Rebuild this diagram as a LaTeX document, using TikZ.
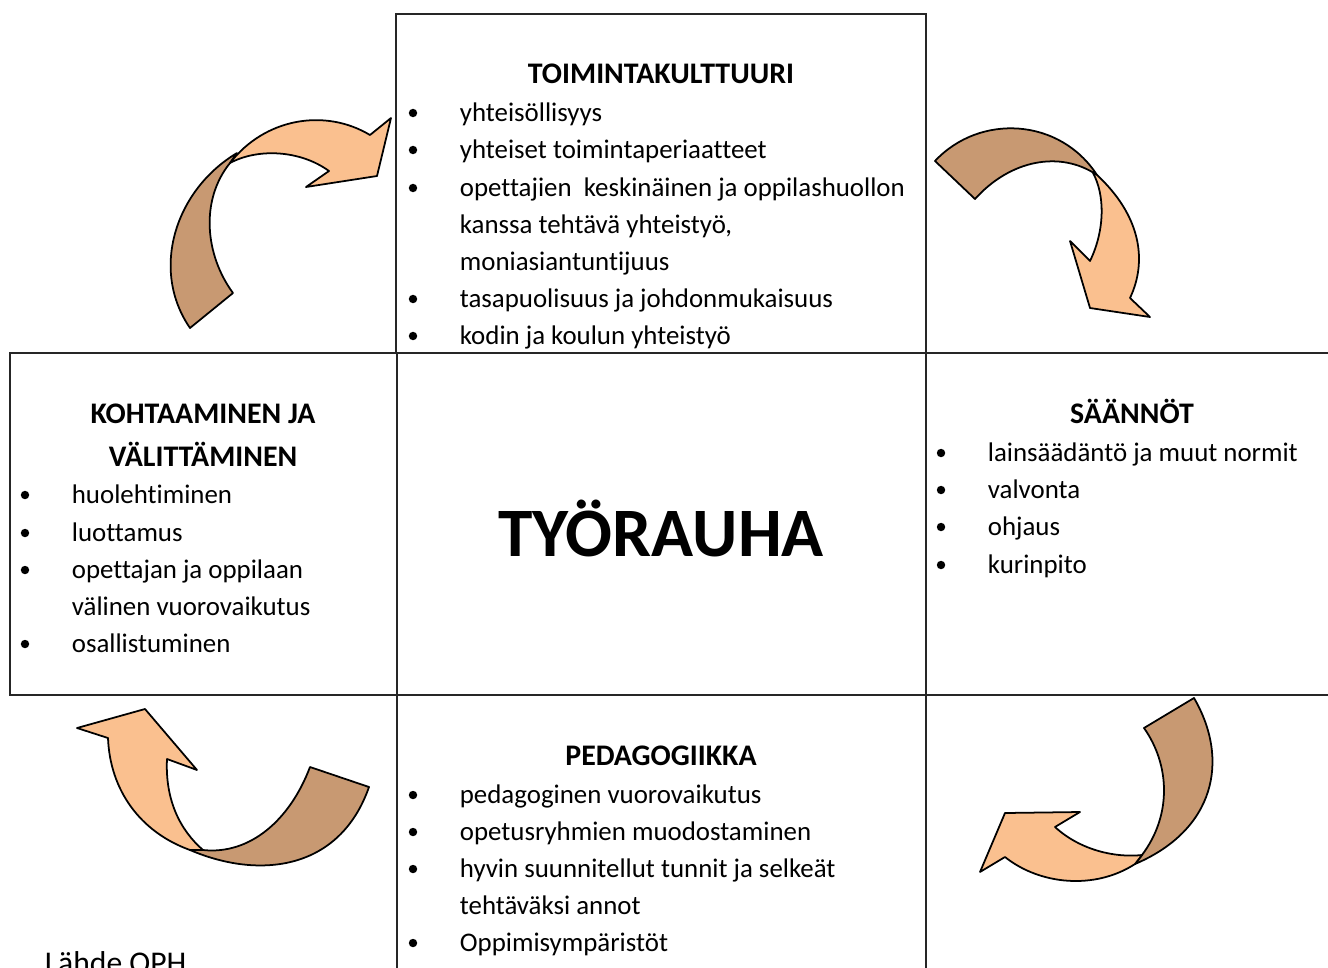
\documentclass[tikz,border=0pt]{standalone}
\usepackage{fontspec}
\setmainfont{Carlito}[Ligatures=NoCommon]
\definecolor{peach}{RGB}{250,192,143}
\definecolor{tanbrown}{RGB}{200,153,114}
\begin{document}
\begin{tikzpicture}[x=0.02cm, y=-0.02cm, line width=1pt,
        box/.style={draw=black!85},
        head/.style={anchor=base, inner sep=0pt, font=\fontsize{17}{20}\selectfont\bfseries},
        item/.style={anchor=mid west, inner sep=0pt, yshift=-2.6pt, font=\fontsize{15.3}{18}\selectfont},
        dot/.style={circle, fill=black, inner sep=0pt, minimum size=4.8pt},
        arrow-light/.style={fill=peach, draw=black, line join=round},
        arrow-dark/.style={fill=tanbrown, draw=black, line join=round}]
    \useasboundingbox (0,0) rectangle (1328,967);
    % Boxes
    \draw[box] (396,14) rectangle (926,353);
    \draw[box] (10,353) rectangle (397,695);
    \draw[box] (397,353) rectangle (926,695);
    \draw[box] (926,353) rectangle (1345,695);
    \draw[box] (397,695) rectangle (926,990);
    % Centre
    \node[anchor=base, inner sep=0pt, font=\fontsize{39.5}{46}\selectfont\bfseries] (tyorauha) at (661,556) {TYÖRAUHA};
    % Top box
    \node[head] (top-head) at (661,83) {TOIMINTAKULTTUURI};
    \foreach \y [count=\i] in {113,150,188,299,336}
        \node[dot] (top-d\i) at (413,\y) {};
    \node[item] (top-1) at (459,113) {yhteisöllisyys};
    \node[item] (top-2) at (459,150) {yhteiset toimintaperiaatteet};
    \node[item] (top-3) at (459,188) {opettajien\ \ keskinäinen ja oppilashuollon};
    \node[item] (top-3b) at (459,225) {kanssa tehtävä yhteistyö,};
    \node[item] (top-3c) at (459,262) {moniasiantuntijuus};
    \node[item] (top-4) at (459,299) {tasapuolisuus ja johdonmukaisuus};
    \node[item] (top-5) at (459,336) {kodin ja koulun yhteistyö};
    % Left box
    \node[head] (left-head) at (203,423) {KOHTAAMINEN JA};
    \node[head] (left-head2) at (203,466) {VÄLITTÄMINEN};
    \foreach \y [count=\i] in {495,533,570,644}
        \node[dot] (left-d\i) at (25,\y) {};
    \node[item] (left-1) at (71,495) {huolehtiminen};
    \node[item] (left-2) at (71,533) {luottamus};
    \node[item] (left-3) at (71,570) {opettajan ja oppilaan};
    \node[item] (left-3b) at (71,607) {välinen vuorovaikutus};
    \node[item] (left-4) at (71,644) {osallistuminen};
    % Right box
    \node[head] (right-head) at (1132,423) {SÄÄNNÖT};
    \foreach \y [count=\i] in {453,490,527,565}
        \node[dot] (right-d\i) at (941,\y) {};
    \node[item] (right-1) at (987,453) {lainsäädäntö ja muut normit};
    \node[item] (right-2) at (987,490) {valvonta};
    \node[item] (right-3) at (987,527) {ohjaus};
    \node[item] (right-4) at (987,565) {kurinpito};
    % Bottom box
    \node[head] (bottom-head) at (661,765) {PEDAGOGIIKKA};
    \foreach \y [count=\i] in {795,832,869,943}
        \node[dot] (bottom-d\i) at (413,\y) {};
    \node[item] (bottom-1) at (459,795) {pedagoginen vuorovaikutus};
    \node[item] (bottom-2) at (459,832) {opetusryhmien\ muodostaminen};
    \node[item] (bottom-3) at (459,869) {hyvin suunnitellut tunnit ja selkeät};
    \node[item] (bottom-3b) at (459,906) {tehtäväksi annot};
    \node[item] (bottom-4) at (459,943) {Oppimisympäristöt};
    % Source
    \node[anchor=base west, inner sep=0pt, font=\fontsize{18}{22}\selectfont] (source) at (44,973) {Lähde OPH};
    % Arrow top left
    \filldraw[arrow-dark] (190,328) -- (233,293) .. controls (205,255) and (200,200) .. (230,163)
        -- (237,153) .. controls (175,190) and (150,270) .. (190,328) -- cycle;
    \filldraw[arrow-light] (230,163) .. controls (265,118) and (325,108) .. (370,135)
        -- (391,118) -- (377,176) -- (306,187) -- (329,171)
        .. controls (300,150) and (258,148) .. (230,163) -- cycle;
    % Arrow top right
    \filldraw[arrow-dark] (935,161) -- (975,199) .. controls (1010,160) and (1060,150) .. (1097,175)
        .. controls (1060,118) and (980,113) .. (935,161) -- cycle;
    \filldraw[arrow-light] (1097,175) .. controls (1140,215) and (1148,260) .. (1130,298)
        -- (1150,317) -- (1090,308) -- (1070,241) -- (1090,261)
        .. controls (1105,230) and (1105,195) .. (1093,173) -- cycle;
    % Arrow bottom right
    \filldraw[arrow-dark] (1144,728) -- (1194,698) .. controls (1230,760) and (1215,830) .. (1135,864)
        -- (1142,855) .. controls (1172,815) and (1170,765) .. (1144,728) -- cycle;
    \filldraw[arrow-light] (1135,864) .. controls (1095,890) and (1040,885) .. (1005,857)
        -- (980,872) -- (1005,813) -- (1080,812) -- (1055,827)
        .. controls (1080,850) and (1115,858) .. (1142,855) -- cycle;
    % Arrow bottom left
    \filldraw[arrow-light] (108,738) -- (77,728) -- (145,709) -- (197,770) -- (167,759)
        .. controls (165,800) and (180,830) .. (203,850) -- (190,850)
        .. controls (140,832) and (110,790) .. (108,738) -- cycle;
    \filldraw[arrow-dark] (190,850) .. controls (260,880) and (340,870) .. (369,787)
        -- (310,767) .. controls (290,820) and (250,855) .. (203,850) -- cycle;
\end{tikzpicture}
\end{document}
